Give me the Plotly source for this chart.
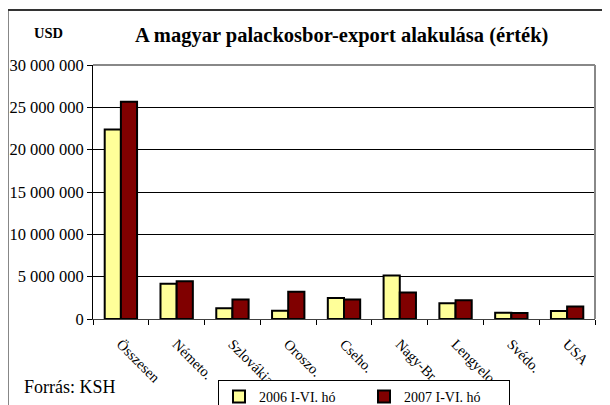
import plotly.graph_objects as go

categories = ["Összesen", "Németo.", "Szlovákia", "Oroszo.", "Cseho.", "Nagy-Br.", "Lengyelo.", "Svédo.", "USA"]
values_2006 = [22380000, 4150000, 1260000, 980000, 2490000, 5130000, 1850000, 750000, 950000]
values_2007 = [25650000, 4450000, 2290000, 3230000, 2290000, 3120000, 2210000, 710000, 1490000]
series_names = ["2006 I-VI. hó", "2007 I-VI. hó"]

W, H = 610, 405
OFF = 8  # page body margin offset
# screen coordinates of plot area, converted to figure coordinates
L, R, T, B = 92.5 - OFF, 595 - OFF, 65 - OFF, 319.5 - OFF

def px(x):
    return (x - OFF - L) / (R - L)

def py(y):
    return (B - (y - OFF)) / (B - T)

SERIF = "Liberation Serif"

fig = go.Figure()
fig.add_trace(go.Bar(x=categories, y=values_2006, name=series_names[0],
                     marker=dict(color="#FFFF99", line=dict(color="black", width=2))))
fig.add_trace(go.Bar(x=categories, y=values_2007, name=series_names[1],
                     marker=dict(color="#800000", line=dict(color="black", width=2))))

fig.update_layout(
    width=W, height=H,
    margin=dict(l=L, r=W - R, t=T, b=H - B, autoexpand=False),
    paper_bgcolor="white", plot_bgcolor="white",
    barmode="group", bargap=0.42, bargroupgap=0,
    separators=". ",
    font=dict(family=SERIF, color="black", size=13),
    showlegend=True,
    legend=dict(orientation="h", xref="container", yref="container",
                x=(218 - OFF) / W, y=1 - (380 - OFF) / H, xanchor="left", yanchor="top",
                bordercolor="black", borderwidth=1, bgcolor="white",
                font=dict(family=SERIF, size=14), entrywidth=100,
                itemclick=False),
)

fig.update_yaxes(range=[0, 30000000], tickvals=list(range(0, 30000001, 5000000)),
                 tickformat=",d", showgrid=True, gridcolor="black", gridwidth=1,
                 showline=True, linecolor="black", linewidth=1,
                 ticks="outside", ticklen=5, tickcolor="black",
                 tickfont=dict(family=SERIF, size=16.5), zeroline=False)
fig.update_xaxes(tickangle=45, tickson="boundaries", ticks="outside", ticklen=5,
                 tickcolor="black", showline=True, linecolor="#404040", linewidth=1,
                 ticklabelstandoff=10,
                 tickfont=dict(family=SERIF, size=14.5), showgrid=False)

# plot area border (top/right gray)
fig.add_shape(type="line", xref="paper", yref="paper", x0=0, x1=1, y0=1, y1=1,
              line=dict(color="#888888", width=2))
fig.add_shape(type="line", xref="paper", yref="paper", x0=1, x1=1, y0=0, y1=1,
              line=dict(color="#888888", width=2))
# outer chart border
fig.add_shape(type="rect", xref="paper", yref="paper", x0=px(7), x1=px(W + 30),
              y0=py(H + 30), y1=py(10), line=dict(color="#333333", width=2))

fig.add_annotation(text="<b>A magyar palackosbor-export alakulása (érték)</b>",
                   xref="paper", yref="paper", x=px(341), y=py(35),
                   xanchor="center", yanchor="middle",
                   showarrow=False, font=dict(family=SERIF, size=20.5))
fig.add_annotation(text="<b>USD</b>", xref="paper", yref="paper", x=px(48), y=py(33),
                   xanchor="center", yanchor="middle",
                   showarrow=False, font=dict(family=SERIF, size=14.5))
fig.add_annotation(text="Forrás: KSH", xref="paper", yref="paper", x=px(21), y=py(388),
                   xanchor="left", yanchor="middle",
                   showarrow=False, font=dict(family=SERIF, size=18))

fig.write_html("out.html")
